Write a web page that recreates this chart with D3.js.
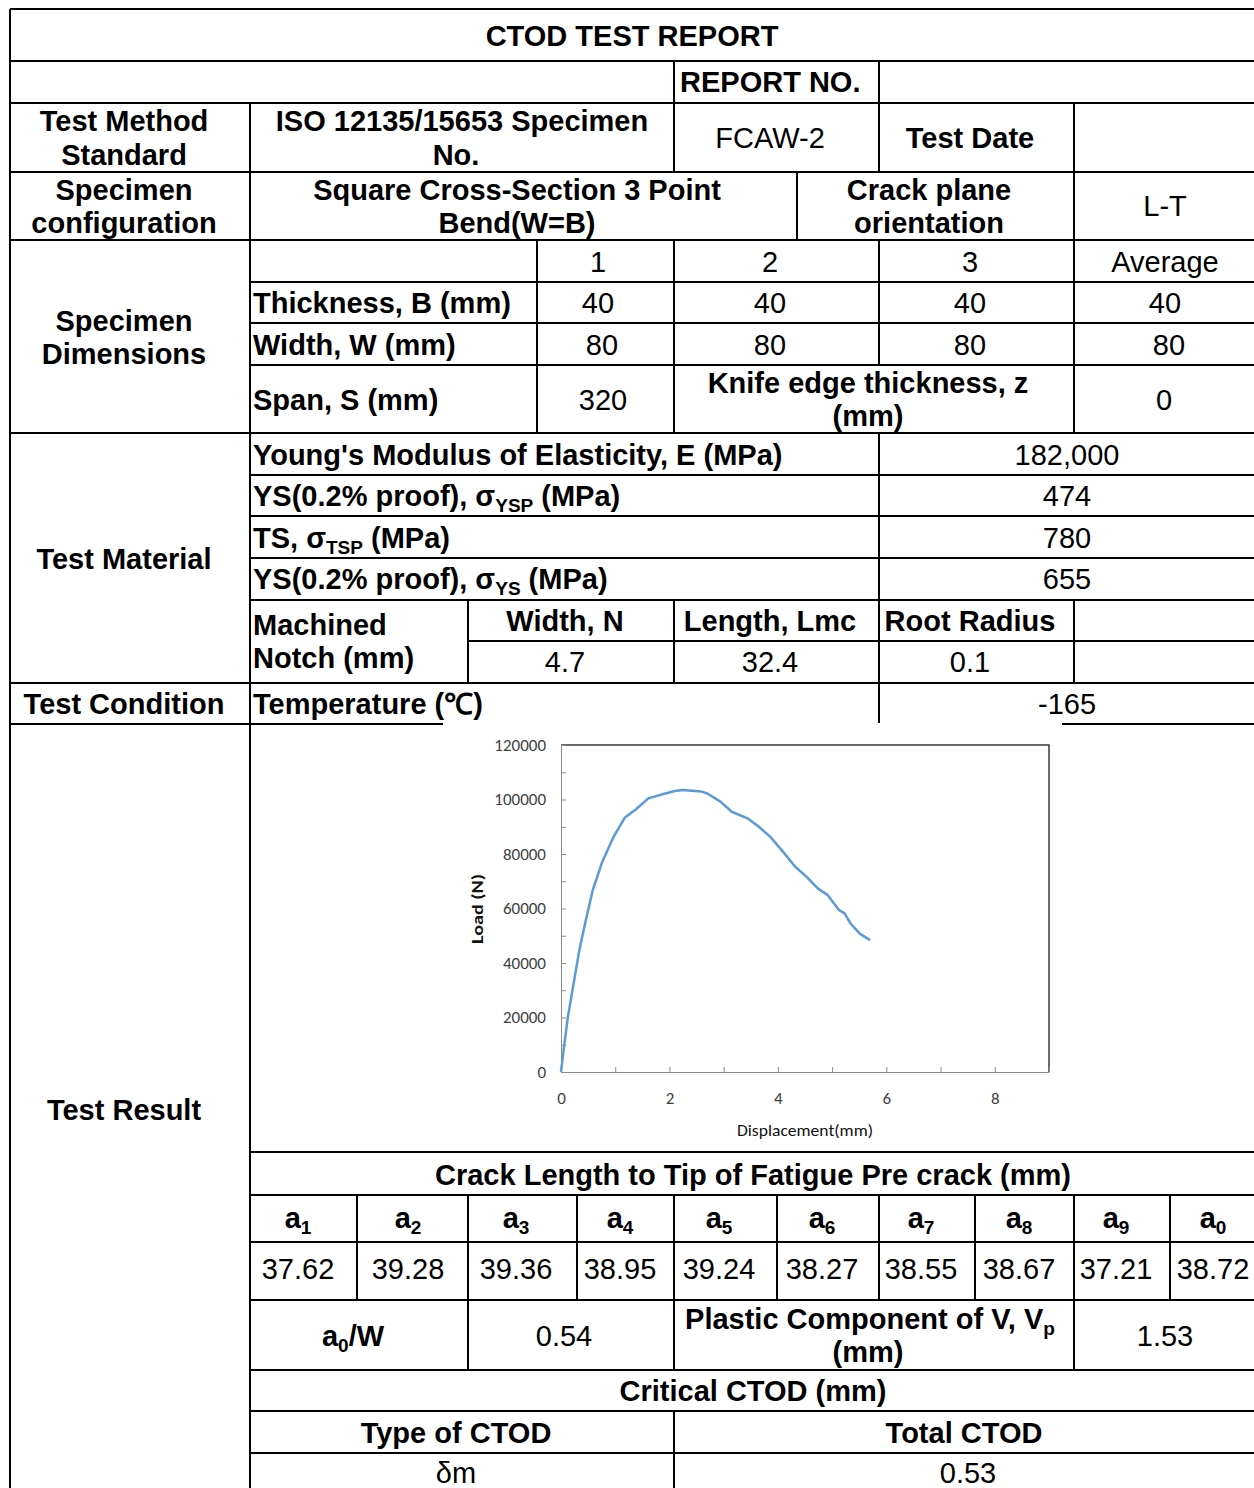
<!DOCTYPE html>
<html>
<head>
<meta charset="utf-8">
<script src="https://cdn.jsdelivr.net/npm/d3@7/dist/d3.min.js"></script>
<style>
body{margin:0;background:#fff}
svg{display:block}
</style>
</head>
<body>
<div id="chart"></div>
<script>
// ---- report values ----
var reportTitle = "CTOD TEST REPORT";
var specimenNo = "FCAW-2";
var crackPlane = "L-T";
var dimHeaders = ["1", "2", "3", "Average"];
var thickness = [40, 40, 40, 40];
var widthW = [80, 80, 80, 80];
var spanS = 320;
var knifeEdge = 0;
var youngsModulus = "182,000";
var materialValues = [474, 780, 655];
var notchValues = [4.7, 32.4, 0.1];
var temperature = -165;
var crackIndex = ["1", "2", "3", "4", "5", "6", "7", "8", "9", "0"];
var crackLength = [37.62, 39.28, 39.36, 38.95, 39.24, 38.27, 38.55, 38.67, 37.21, 38.72];
var a0W = 0.54;
var plasticVp = 1.53;
var ctodType = "δm";
var totalCtod = 0.53;

// ---- load / displacement curve ----
var displacement = [0, 0.056, 0.127, 0.232, 0.338, 0.444, 0.585, 0.76, 0.97, 1.18, 1.39, 1.61, 1.89, 2.10, 2.24, 2.59, 2.70, 2.94, 3.15, 3.44, 3.65, 3.86, 4.07, 4.32, 4.53, 4.74, 4.92, 5.13, 5.23, 5.34, 5.51, 5.70];
var load = [0, 9200, 20200, 32400, 44700, 54500, 66700, 77100, 86300, 93400, 96500, 100400, 102000, 103100, 103500, 102900, 102200, 99200, 95500, 93100, 90000, 86300, 81400, 75300, 71600, 67300, 64900, 59400, 58200, 54500, 50800, 48400];
var xTicks = [0, 1, 2, 3, 4, 5, 6, 7, 8, 9];
var xTickLabels = [0, 2, 4, 6, 8];
var yTicks = [0, 10000, 20000, 30000, 40000, 50000, 60000, 70000, 80000, 90000, 100000, 110000, 120000];
var yTickLabels = [0, 20000, 40000, 60000, 80000, 100000, 120000];

var W = 1254, H = 1488;
var svg = d3.select("#chart").append("svg").attr("width", W).attr("height", H);

// table grid (layout)
var R = 1254;
var hLines = [
    [9, 10, R], [61, 10, R], [103, 10, R], [172, 10, R], [240, 10, R],
    [282, 250, R], [323, 250, R], [365, 250, R], [433, 10, R],
    [475, 250, R], [516, 250, R], [558, 250, R], [600, 250, R], [641, 468, R],
    [683, 10, R], [724, 10, R], [1152, 250, R], [1195, 250, R], [1242, 250, R],
    [1300, 250, R], [1370, 250, R], [1411, 250, R], [1453, 250, R]
];
var vLines = [
    [10, 9, H], [250, 103, H],
    [674, 61, 172], [674, 240, 433], [674, 600, 683], [674, 1195, 1370], [674, 1411, H],
    [879, 61, 172], [879, 240, 365], [879, 433, 724], [879, 1195, 1300],
    [1074, 103, 433], [1074, 600, 683], [1074, 1195, 1370],
    [797, 172, 240], [537, 240, 433], [468, 600, 683], [468, 1195, 1370],
    [357, 1195, 1300], [577, 1195, 1300], [777, 1195, 1300], [975, 1195, 1300], [1170, 1195, 1300]
];

var grid = svg.append("g").attr("stroke", "#000").attr("stroke-width", 2);
grid.selectAll(".h").data(hLines).enter().append("line")
    .attr("x1", d => d[1]).attr("x2", d => d[2]).attr("y1", d => d[0]).attr("y2", d => d[0]);
grid.selectAll(".v").data(vLines).enter().append("line")
    .attr("x1", d => d[0]).attr("x2", d => d[0]).attr("y1", d => d[1]).attr("y2", d => d[2]);

// text helper: parts are strings or {sub: "..."}
var txt = svg.append("g").attr("font-family", "'Liberation Sans', Arial, sans-serif")
    .attr("font-size", 29).attr("fill", "#000");

function put(x, y, parts, bold, anchor) {
    var t = txt.append("text").attr("x", x).attr("y", y + 10)
        .attr("text-anchor", anchor || "middle")
        .attr("font-weight", bold ? "bold" : "normal");
    if (!Array.isArray(parts)) parts = [parts];
    var shifted = false;
    parts.forEach(function (p) {
        if (typeof p === "object") {
            t.append("tspan").attr("font-size", 19).attr("dy", 6).text(p.sub);
            shifted = true;
        } else {
            var s = t.append("tspan").text(p);
            if (shifted) { s.attr("dy", -6); shifted = false; }
        }
    });
}

put(632, 36, reportTitle, true);
put(680, 82, "REPORT NO.", true, "start");
put(124, 121, "Test Method", true);
put(124, 155, "Standard", true);
put(462, 121, "ISO 12135/15653 Specimen", true);
put(456, 155, "No.", true);
put(770, 138, specimenNo, false);
put(970, 138, "Test Date", true);
put(124, 190, "Specimen", true);
put(124, 223, "configuration", true);
put(517, 190, "Square Cross-Section 3 Point", true);
put(517, 223, "Bend(W=B)", true);
put(929, 190, "Crack plane", true);
put(929, 223, "orientation", true);
put(1165, 206, crackPlane, false);

var dimX = [598, 770, 970, 1165];
dimHeaders.forEach((d, i) => put(dimX[i], 262, d, false));
put(253, 303, "Thickness, B (mm)", true, "start");
thickness.forEach((d, i) => put(dimX[i], 303, String(d), false));
put(253, 345, "Width, W (mm)", true, "start");
widthW.forEach((d, i) => put(dimX[i] + (i === 0 || i === 3 ? 4 : 0), 345, String(d), false));
put(124, 321, "Specimen", true);
put(124, 354, "Dimensions", true);
put(253, 400, "Span, S (mm)", true, "start");
put(603, 400, String(spanS), false);
put(868, 383, "Knife edge thickness, z", true);
put(868, 416, "(mm)", true);
put(1164, 400, String(knifeEdge), false);

put(253, 455, "Young's Modulus of Elasticity, E (MPa)", true, "start");
put(1067, 455, youngsModulus, false);
put(253, 496, ["YS(0.2% proof), σ", {sub: "YSP"}, " (MPa)"], true, "start");
put(253, 538, ["TS, σ", {sub: "TSP"}, " (MPa)"], true, "start");
put(253, 579, ["YS(0.2% proof), σ", {sub: "YS"}, " (MPa)"], true, "start");
[496, 538, 579].forEach((yy, i) => put(1067, yy, String(materialValues[i]), false));
put(124, 559, "Test Material", true);
put(253, 625, "Machined", true, "start");
put(253, 658, "Notch (mm)", true, "start");
var notchX = [565, 770, 970];
["Width, N", "Length, Lmc", "Root Radius"].forEach((d, i) => put(notchX[i], 621, d, true));
notchValues.forEach((d, i) => put(notchX[i], 662, String(d), false));

put(124, 704, "Test Condition", true);
put(253, 704, "Temperature (℃)", true, "start");
put(1067, 704, String(temperature), false);
put(124, 1110, "Test Result", true);

put(753, 1175, "Crack Length to Tip of Fatigue Pre crack (mm)", true);
var aHeadX = [298, 408, 516, 620, 719, 822, 921, 1019, 1116, 1213];
crackIndex.forEach((d, i) => put(aHeadX[i], 1218, ["a", {sub: d}], true));
crackLength.forEach((d, i) => put(aHeadX[i], 1269, d.toFixed(2), false));
put(353, 1336, ["a", {sub: "0"}, "/W"], true);
put(564, 1336, a0W.toFixed(2), false);
put(870, 1319, ["Plastic Component of V, V", {sub: "p"}], true);
put(868, 1352, "(mm)", true);
put(1165, 1336, plasticVp.toFixed(2), false);
put(753, 1391, "Critical CTOD (mm)", true);
put(456, 1433, "Type of CTOD", true);
put(964, 1433, "Total CTOD", true);
put(456, 1473, ctodType, false);
put(968, 1473, totalCtod.toFixed(2), false);

// ---- embedded chart image ----
var chart = svg.append("g");
chart.append("rect").attr("x", 443).attr("y", 723).attr("width", 619).attr("height", 427).attr("fill", "#fff");

var x = d3.scaleLinear().domain([0, 9]).range([561, 1049]);
var y = d3.scaleLinear().domain([0, 120000]).range([1072, 745]);

chart.append("path")
    .attr("d", "M" + x(0) + "," + y(120000) + "H" + x(9) + "V" + y(0))
    .attr("fill", "none").attr("stroke", "#3a3a3a").attr("stroke-width", 1.5);

var xAxis = chart.append("g").attr("transform", "translate(0," + y(0) + ")")
    .call(d3.axisBottom(x).tickValues(xTicks).tickSize(-5).tickSizeOuter(0).tickPadding(20)
        .tickFormat(d => xTickLabels.indexOf(d) >= 0 ? d : ""));
var yAxis = chart.append("g").attr("transform", "translate(" + x(0) + ",0)")
    .call(d3.axisLeft(y).tickValues(yTicks).tickSize(-5).tickSizeOuter(0).tickPadding(15)
        .tickFormat(d => yTickLabels.indexOf(d) >= 0 ? d : ""));
[xAxis, yAxis].forEach(function (a) {
    a.select(".domain").attr("stroke", "#8c8c8c");
    a.selectAll(".tick line").attr("stroke", "#8c8c8c");
    a.selectAll("text").attr("font-family", "Carlito, Lato, sans-serif").attr("font-size", 17).attr("fill", "#404040");
});

chart.append("path")
    .datum(displacement.map((d, i) => [d, load[i]]))
    .attr("fill", "none").attr("stroke", "#5b9bd5").attr("stroke-width", 2.5)
    .attr("stroke-linejoin", "round")
    .attr("d", d3.line().x(d => x(d[0])).y(d => y(d[1])));

chart.append("text").attr("transform", "translate(483,909) rotate(-90)")
    .attr("text-anchor", "middle").attr("font-family", "Carlito, Lato, sans-serif")
    .attr("font-size", 16).attr("font-weight", "bold").attr("fill", "#111")
    .attr("textLength", 70).attr("lengthAdjust", "spacingAndGlyphs").text("Load  (N)");
chart.append("text").attr("x", 805).attr("y", 1136)
    .attr("text-anchor", "middle").attr("font-family", "Carlito, Lato, sans-serif")
    .attr("font-size", 17).attr("fill", "#111")
    .attr("textLength", 136).attr("lengthAdjust", "spacingAndGlyphs").text("Displacement(mm)");
</script>
</body>
</html>
